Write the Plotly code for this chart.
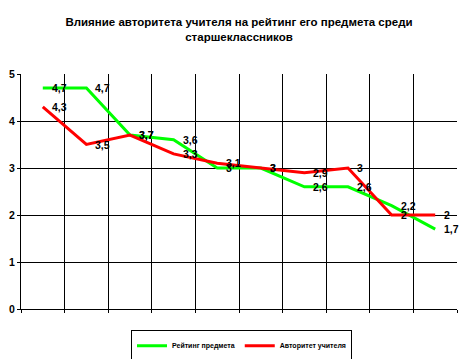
import plotly.graph_objects as go

# positions of the 10 (unlabelled) categories
categories = [1, 2, 3, 4, 5, 6, 7, 8, 9, 10]
rating_subject = [4.7, 4.7, 3.7, 3.6, 3.0, 3.0, 2.6, 2.6, 2.2, 1.7]
teacher_authority = [4.3, 3.5, 3.7, 3.3, 3.1, 3.0, 2.9, 3.0, 2.0, 2.0]
y_ticks = [0, 1, 2, 3, 4, 5]

series = [
    ("Рейтинг предмета", rating_subject, "#00FF00"),
    ("Авторитет учителя", teacher_authority, "#FF0000"),
]

FONT = "Liberation Sans"

def fmt(v):
    return ("%g" % v).replace(".", ",")

# category boundaries (where the vertical gridlines sit)
boundaries = [c - 0.5 for c in categories] + [categories[-1] + 0.5]

fig = go.Figure()
annotations = []
for name, vals, color in series:
    fig.add_trace(go.Scatter(
        x=categories, y=vals, name=name, mode="lines",
        line=dict(color=color, width=3),
        hoverinfo="skip",
    ))
for name, vals, color in series:
    for x, v in zip(categories, vals):
        annotations.append(dict(
            x=x, y=v, xref="x", yref="y", text=fmt(v), showarrow=False,
            xanchor="left", yanchor="middle", xshift=7,
            font=dict(family=FONT, size=10.5, color="black", weight="bold"),
        ))

# the page body adds an 8px offset, so the figure is sized/margined to compensate
fig.update_layout(
    template="none",
    width=455, height=351,
    margin=dict(l=13, r=6, t=66, b=50, autoexpand=False),
    paper_bgcolor="white", plot_bgcolor="white",
    title=dict(
        text="Влияние авторитета учителя на рейтинг его предмета среди<br>старшеклассников",
        x=(235.5 - 8) / 455, xanchor="center", xref="paper",
        y=0.949, yanchor="top", yref="container",
        font=dict(family=FONT, size=11.5, color="black", weight="bold"),
    ),
    xaxis=dict(
        range=[boundaries[0], boundaries[-1]], tickvals=boundaries,
        showticklabels=False, automargin=False,
        showgrid=True, gridcolor="#000000", gridwidth=1,
        zeroline=False, showline=True, linecolor="black", linewidth=1,
        ticks="outside", ticklen=3, tickcolor="black",
    ),
    yaxis=dict(
        range=[0, 5], tickvals=y_ticks, ticktext=[str(t) for t in y_ticks],
        automargin=False,
        showgrid=True, gridcolor="#000000", gridwidth=1,
        zeroline=False, showline=True, linecolor="black", linewidth=1,
        ticks="outside", ticklen=3, tickcolor="black",
        tickfont=dict(family=FONT, size=10.5, color="black", weight="bold"),
    ),
    legend=dict(
        orientation="h", x=(241.5 - 21) / 436, xanchor="center", y=-0.09, yanchor="top",
        bordercolor="black", borderwidth=1, bgcolor="white",
        font=dict(family=FONT, size=7, color="black", weight="bold"),
        itemwidth=30, tracegroupgap=0,
    ),
    annotations=annotations,
    showlegend=True,
)

fig.write_html("out.html")
